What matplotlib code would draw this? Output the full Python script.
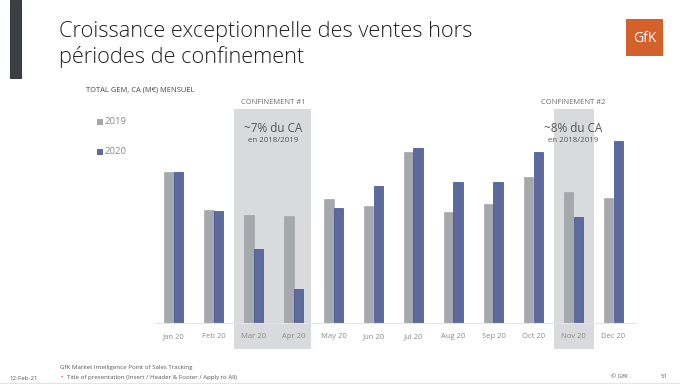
import matplotlib
matplotlib.use("Agg")
import matplotlib.pyplot as plt
from matplotlib.patches import Rectangle

months = ["Jan 20", "Feb 20", "Mar 20", "Apr 20", "May 20", "Jun 20",
          "Jul 20", "Aug 20", "Sep 20", "Oct 20", "Nov 20", "Dec 20"]
sales_2019 = [151, 113, 108, 107, 124, 117, 171, 111, 119, 146, 131, 125]
sales_2020 = [151, 112, 74, 34, 115, 137, 175, 141, 141, 171, 106, 182]
series_names = ["2019", "2020"]

W, H = 680, 384
plt.rcParams['font.family'] = ['Open Sans', 'DejaVu Sans']
fig = plt.figure(figsize=(W / 100, H / 100), dpi=100)
fig.patch.set_facecolor("white")

def fx(px):
    return px / W

def fy(py):
    return 1 - py / H

# axes: baseline at y=323px, category spacing 40px, Jan centre at 173.5px
left_px, right_px = 155, 636
base_px, top_px = 323, 100
ax = fig.add_axes([fx(left_px), fy(base_px), fx(right_px - left_px), (base_px - top_px) / H])
ax.set_xlim((left_px - 173.5) / 40, (right_px - 173.5) / 40)
ax.set_ylim(0, base_px - top_px)
ax.set_facecolor("none")
for s in ax.spines.values():
    s.set_visible(False)
ax.spines['bottom'].set_visible(True)
ax.spines['bottom'].set_color("#e3e3e3")
ax.spines['bottom'].set_linewidth(0.8)
ax.set_yticks([])

shade = "#d9dadd"
for x0, x1 in [(2 - 0.48, 3 + 0.44), (10 - 0.48, 10 + 0.5)]:
    ax.add_patch(Rectangle((x0, -26), x1 - x0, 240, facecolor=shade,
                           edgecolor="none", clip_on=False, zorder=0))

x = list(range(len(months)))
bw = 0.2375
ax.bar([i - bw / 2 for i in x], sales_2019, width=bw, color="#a5a8ad",
       edgecolor="#9a9da2", linewidth=0.4, zorder=2)
ax.bar([i + bw / 2 for i in x], sales_2020, width=bw, color="#5d6b9c",
       edgecolor="#3d4f95", linewidth=0.5, zorder=2)

ax.set_xticks(x)
ax.set_xticklabels(months, fontsize=5.5, color="#8a8a8a")
ax.tick_params(axis='x', length=0, pad=7.5)

# Annotations
for cx, pct in [((2 + 3) / 2 - 0.02, "~7% du CA"), (10, "~8% du CA")]:
    px_c = 173.5 + 40 * cx
    num = 1 if pct.startswith("~7") else 2
    fig.text(fx(px_c), fy(103), f"CONFINEMENT #{num}", ha="center", va="center",
             fontsize=5.4, color="#6a6a6a")
    fig.text(fx(px_c), fy(128), pct, ha="center", va="center",
             fontsize=8.5, color="#555555")
    fig.text(fx(px_c), fy(141), "en 2018/2019", ha="center", va="center",
             fontsize=5.7, color="#555555")

# Legend
for py, col, name in [(122, "#a5a8ad", series_names[0]), (152, "#5d6b9c", series_names[1])]:
    fig.patches.append(Rectangle((fx(97), fy(py + 3)), 6 / W, 6 / H,
                                 facecolor=col, edgecolor="none",
                                 transform=fig.transFigure))
    fig.text(fx(104.5), fy(py), name, ha="left", va="center", fontsize=6.8, color="#8a8a8a")

# Title
fig.text(fx(59), fy(37), "Croissance exceptionnelle des ventes hors",
         ha="left", va="baseline", fontsize=15.7, color="#222222", fontweight="light")
fig.text(fx(59), fy(63), "périodes de confinement",
         ha="left", va="baseline", fontsize=15.7, color="#222222", fontweight="light")
fig.text(fx(86), fy(90), "TOTAL GEM, CA (M€) MENSUEL", ha="left", va="center",
         fontsize=5.4, color="#444444")

# Left dark bar
fig.patches.append(Rectangle((fx(10), fy(78)), 11 / W, 78 / H, facecolor="#3b4045",
                             edgecolor="#22262a", linewidth=0.6, transform=fig.transFigure))

# Logo
fig.patches.append(Rectangle((fx(626), fy(56)), 37 / W, 37 / H, facecolor="#d4612a",
                             edgecolor="none", transform=fig.transFigure))
fig.text(fx(644.5), fy(38), "GfK", ha="center", va="center", fontsize=10,
         color="white", family="Open Sans")

# Footer
fig.text(fx(60), fy(368), "GfK Market Intelligence Point of Sales Tracking",
         ha="left", va="center", fontsize=4.4, color="#555555")
fig.text(fx(60), fy(377.5), "•", ha="left", va="center", fontsize=4.5, color="#e03030")
fig.text(fx(67), fy(377), "Title of presentation (Insert / Header & Footer / Apply to All)",
         ha="left", va="center", fontsize=4.4, color="#555555")
fig.text(fx(9), fy(378), "12-Feb-21", ha="left", va="center", fontsize=4.4, color="#555555")
fig.text(fx(611), fy(377), "© GfK", ha="left", va="center", fontsize=4.4, color="#555555")
fig.text(fx(661), fy(377), "51", ha="left", va="center", fontsize=4.4, color="#555555")
fig.add_artist(plt.Line2D([0, 1], [fy(382.5), fy(382.5)], color="#e6e6e6",
                          linewidth=1, transform=fig.transFigure))

fig.savefig("out.png", dpi=100, facecolor="white")
